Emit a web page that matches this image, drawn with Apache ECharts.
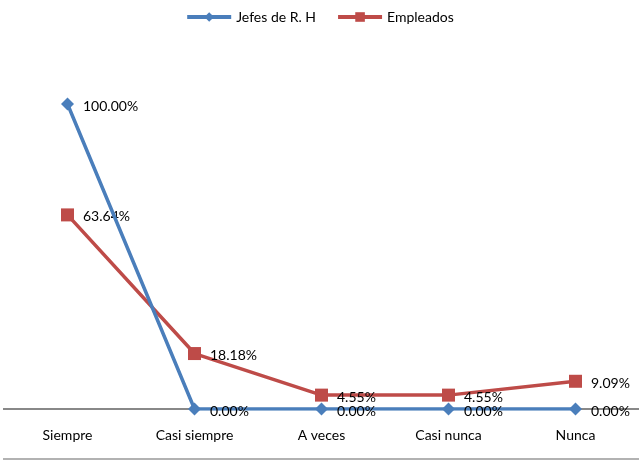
<!DOCTYPE html>
<html>
<head>
<meta charset="utf-8">
<script src="https://cdn.jsdelivr.net/npm/echarts@6/dist/echarts.min.js"></script>
<style>
  html, body { margin: 0; padding: 0; background: #fff; }
  #chart { width: 639px; height: 461px; }
</style>
</head>
<body>
<div id="chart"></div>
<script>
var categories = ['Siempre', 'Casi siempre', 'A veces', 'Casi nunca', 'Nunca'];
var jefes = [1.0, 0, 0, 0, 0];
var empleados = [0.6364, 0.1818, 0.0455, 0.0455, 0.0909];

var font = 'Lato, "Open Sans", sans-serif';

function pct(p) {
  return (p.value * 100).toFixed(2) + '%';
}

var chart = echarts.init(document.getElementById('chart'));
chart.setOption({
  animation: false,
  textStyle: { fontFamily: font },
  legend: {
    top: 5,
    left: 'center',
    itemWidth: 44,
    itemHeight: 12,
    itemGap: 20,
    textStyle: { fontSize: 14, color: '#000', fontFamily: font },
    data: [
      { name: 'Jefes de R. H', lineStyle: { width: 4 } },
      { name: 'Empleados', lineStyle: { width: 4 } }
    ]
  },
  grid: { left: 4, right: -5, top: 43, bottom: 52 },
  xAxis: {
    type: 'category',
    data: categories,
    boundaryGap: true,
    axisLine: { lineStyle: { color: '#888', width: 2 } },
    axisTick: { show: false },
    axisLabel: { color: '#000', fontSize: 14, margin: 19, fontFamily: font }
  },
  yAxis: {
    type: 'value',
    min: 0,
    max: 1.2,
    show: false,
    splitLine: { show: false }
  },
  graphic: [{
    type: 'line',
    shape: { x1: 3, y1: 459, x2: 639, y2: 459 },
    style: { stroke: '#999', lineWidth: 1.5 }
  }, {
    type: 'line',
    shape: { x1: 3, y1: 409, x2: 7, y2: 409 },
    style: { stroke: '#888', lineWidth: 2 }
  }],
  series: [{
    name: 'Jefes de R. H',
    type: 'line',
    data: jefes,
    symbol: 'diamond',
    symbolSize: 13,
    color: '#4a7ebb',
    lineStyle: { width: 3.5, color: '#4a7ebb' },
    label: {
      show: true, position: 'right', distance: 9, offset: [0, 2],
      formatter: pct, color: '#000', fontSize: 14, fontFamily: font
    },
    z: 3
  }, {
    name: 'Empleados',
    type: 'line',
    data: empleados,
    symbol: 'rect',
    symbolSize: 13,
    color: '#be4b48',
    lineStyle: { width: 3.5, color: '#be4b48' },
    label: {
      show: true, position: 'right', distance: 9, offset: [0, 2],
      formatter: pct, color: '#000', fontSize: 14, fontFamily: font
    },
    z: 2
  }]
});
</script>
</body>
</html>
